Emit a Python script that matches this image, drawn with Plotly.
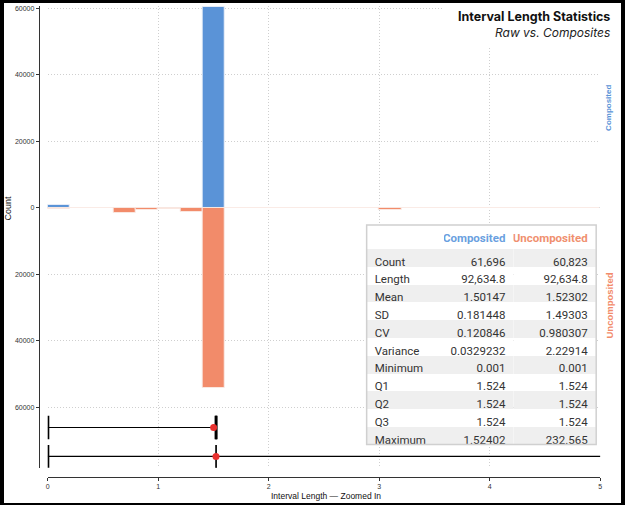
import plotly.graph_objects as go

# histogram bins (left edges) and counts, bin width 0.2
bin_left = [0.0, 0.2, 0.4, 0.6, 0.8, 1.0, 1.2, 1.4, 1.6, 1.8, 2.0, 2.2, 2.4,
            2.6, 2.8, 3.0, 3.2, 3.4, 3.6, 3.8, 4.0, 4.2, 4.4, 4.6, 4.8]
composited_counts = [900, 60, 50, 60, 50, 40, 36, 60500, 0, 0, 0, 0, 0,
                     0, 0, 0, 0, 0, 0, 0, 0, 0, 0, 0, 0]
uncomposited_counts = [300, 150, 150, 1500, 700, 250, 1100, 54100, 100, 60, 50, 150, 40,
                       30, 30, 700, 30, 20, 20, 20, 20, 20, 20, 60, 60]

# summary statistics
stat_labels = ["Count", "Length", "Mean", "SD", "CV", "Variance",
               "Minimum", "Q1", "Q2", "Q3", "Maximum"]
composited_stats = [61696, 92634.8, 1.50147, 0.181448, 0.120846, 0.0329232,
                    0.001, 1.524, 1.524, 1.524, 1.52402]
uncomposited_stats = [60823, 92634.8, 1.52302, 1.49303, 0.980307, 2.22914,
                      0.001, 1.524, 1.524, 1.524, 232.565]
series_names = ["Composited", "Uncomposited"]

y_ticks = [60000, 40000, 20000, 0, -20000, -40000, -60000]
x_ticks = [0, 1, 2, 3, 4, 5]

BLUE = '#5A93D7'
ORANGE = '#F28B6A'
TXT = '#333333'
W, H = 625, 505


def px(x):
    return x / W


def py(y):
    return 1 - y / H


bin_w = 0.2
centers = [b + bin_w / 2 for b in bin_left]

fig = go.Figure()

fig.add_trace(go.Bar(x=centers, y=composited_counts, width=bin_w,
                     marker=dict(color=BLUE, line=dict(color='rgba(235,240,248,0.9)', width=1))))
fig.add_trace(go.Bar(x=centers, y=[-c for c in uncomposited_counts], width=bin_w,
                     marker=dict(color=ORANGE, line=dict(color='rgba(250,235,230,0.9)', width=1))))


def stat(values, name):
    return values[stat_labels.index(name)]


# box plots below the histogram
def add_box(values, yc, h):
    vmin, vmax = stat(values, 'Minimum'), stat(values, 'Maximum')
    q1, q2, q3 = stat(values, 'Q1'), stat(values, 'Q2'), stat(values, 'Q3')
    mean = stat(values, 'Mean')
    line = dict(color='black', width=1.2)
    fig.add_trace(go.Scatter(x=[vmin, vmax], y=[yc, yc], mode='lines', line=line))
    fig.add_trace(go.Scatter(x=[q1, q3, q3, q1, q1], y=[yc - h, yc - h, yc + h, yc + h, yc - h],
                             mode='lines', line=line))
    fig.add_trace(go.Scatter(x=[q2, q2], y=[yc - h, yc + h], mode='lines', line=line))
    fig.add_trace(go.Scatter(x=[vmin, vmin], y=[yc - h, yc + h], mode='lines',
                             line=dict(color='black', width=3)))
    fig.add_trace(go.Scatter(x=[vmax, vmax], y=[yc - h, yc + h], mode='lines',
                             line=dict(color='black', width=3)))
    fig.add_trace(go.Scatter(x=[mean], y=[yc], mode='markers',
                             marker=dict(color='#E8302E', size=7)))


add_box(composited_stats, -66000, 3500)
add_box(uncomposited_stats, -74700, 3400)

# statistics table
n = len(stat_labels)
fills = ['#EFEFEF' if i % 2 == 0 else 'white' for i in range(n)]
head_h, row_h = 24, 17.8
tbl_top = 224.5
fig.add_trace(go.Table(
    domain=dict(x=[px(367), px(598)], y=[py(tbl_top + head_h + row_h * n + 1.5), py(tbl_top)]),
    columnwidth=[78, 70, 83],
    header=dict(values=[''] + series_names,
                fill_color='white', line=dict(width=0),
                align=['left', 'right', 'right'], height=head_h,
                font=dict(family='Roboto', size=11.5, weight=700,
                          color=[TXT, '#6A9FE0', '#F0906F'])),
    cells=dict(values=[stat_labels,
                       [f"{v:,.6g}" for v in composited_stats],
                       [f"{v:,.6g}" for v in uncomposited_stats]],
               fill_color=[fills, fills, fills], line=dict(width=0),
               align=['left', 'right', 'right'], height=row_h,
               font=dict(family='Roboto', size=11.5, color=TXT)),
))

grid = dict(showgrid=True, gridcolor='#CFCFCF', griddash='1px,2px', gridwidth=1)


def note(text, x, y, size, color, family='Liberation Sans', angle=0, xanchor='center'):
    return dict(text=text, xref='paper', yref='paper', x=px(x), y=py(y),
                xanchor=xanchor, yanchor='middle', textangle=angle, showarrow=False,
                font=dict(family=family, size=size, color=color))


fig.update_layout(
    width=W, height=H,
    margin=dict(l=0, r=0, t=0, b=0),
    paper_bgcolor='white', plot_bgcolor='white',
    showlegend=False,
    barmode='relative', bargap=0,
    font=dict(family='Liberation Sans', color='#222'),
    xaxis=dict(domain=[px(46), px(602)], range=[0, 5], anchor='free', position=py(477),
               tickvals=x_ticks, ticks='outside', ticklen=3, tickcolor=TXT,
               showline=True, linecolor=TXT, linewidth=1,
               tickfont=dict(size=7, color=TXT), zeroline=False, **grid),
    yaxis=dict(domain=[py(468), py(5)], range=[-78200, 60700], anchor='free', position=px(37),
               tickvals=y_ticks, ticktext=[str(abs(v)) for v in y_ticks],
               ticks='outside', ticklen=3, tickcolor=TXT,
               showline=True, linecolor=TXT, linewidth=1,
               tickfont=dict(size=7, color=TXT),
               zeroline=True, zerolinecolor='#C8C8C8', zerolinewidth=1, **grid),
    shapes=[
        dict(type='rect', xref='paper', yref='paper', x0=px(443), x1=1, y0=py(45), y1=1,
             fillcolor='white', line=dict(width=0), layer='above'),
        dict(type='rect', xref='paper', yref='paper', x0=px(367), x1=px(598),
             y0=py(444.5), y1=py(tbl_top), line=dict(color='#D0D0D0', width=1.5), layer='above'),
        dict(type='rect', xref='paper', yref='paper', x0=0, x1=1, y0=0, y1=1,
             line=dict(color='black', width=4), layer='above'),
    ],
    annotations=[
        note('<b>Interval Length Statistics</b>', 614, 16, 12.5, '#111', 'Inter', xanchor='right'),
        note('<i>Raw vs. Composites</i>', 614, 32, 12, '#222', 'Inter', xanchor='right'),
        note('<b>%s</b>' % series_names[0], 611, 107, 8, BLUE, angle=-90),
        note('<b>%s</b>' % series_names[1], 611, 305, 9.5, ORANGE, angle=-90),
        note('Count', 6, 207, 9, '#111', angle=-90),
        note('Interval Length \u2014 Zoomed In', 326, 496, 8.5, '#111'),
    ],
)

fig.write_html("out.html", config={'displayModeBar': False},
               post_script="document.body.style.margin='0';")
